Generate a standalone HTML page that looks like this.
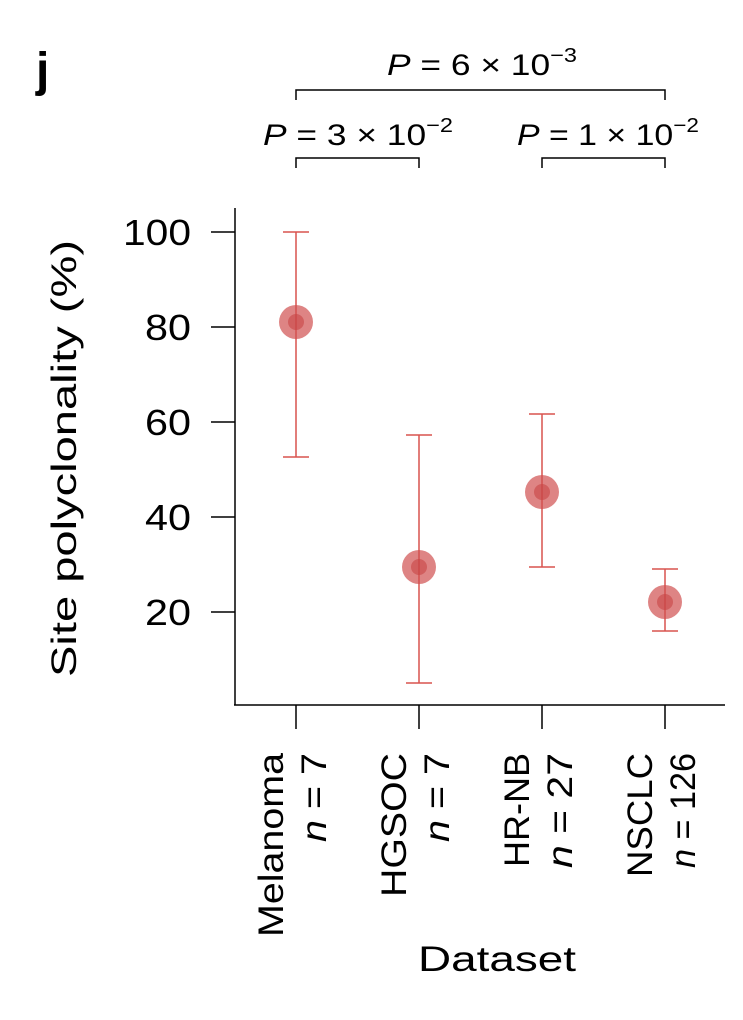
<!DOCTYPE html>
<html><head><meta charset="utf-8"><style>
html,body{margin:0;padding:0;background:#fff;}
svg{display:block;font-family:"Liberation Sans",sans-serif;}
</style></head><body>
<svg width="743" height="1020" viewBox="0 0 743 1020" xmlns="http://www.w3.org/2000/svg">
<text x="36" y="86" font-size="48" font-weight="bold">j</text>
<g stroke="#000" stroke-width="1.5" fill="none">
<polyline points="296,100 296,90 665,90 665,100"/>
<polyline points="296,168 296,158 419,158 419,168"/>
<polyline points="542,168 542,158 665,158 665,168"/>
<line x1="235" y1="208" x2="235" y2="705"/>
<line x1="234" y1="705" x2="725" y2="705"/>
<line x1="211" y1="232" x2="235" y2="232"/>
<line x1="211" y1="327" x2="235" y2="327"/>
<line x1="211" y1="422" x2="235" y2="422"/>
<line x1="211" y1="517" x2="235" y2="517"/>
<line x1="211" y1="612" x2="235" y2="612"/>
<line x1="296" y1="705" x2="296" y2="729"/>
<line x1="419" y1="705" x2="419" y2="729"/>
<line x1="542" y1="705" x2="542" y2="729"/>
<line x1="665" y1="705" x2="665" y2="729"/>
</g>
<g font-size="30">
<text x="387" y="75" textLength="190" lengthAdjust="spacingAndGlyphs"><tspan font-style="italic">P</tspan> = 6 × 10<tspan font-size="20" dy="-13">−3</tspan></text>
<text x="263" y="145" textLength="190" lengthAdjust="spacingAndGlyphs"><tspan font-style="italic">P</tspan> = 3 × 10<tspan font-size="20" dy="-13">−2</tspan></text>
<text x="517" y="145" textLength="182" lengthAdjust="spacingAndGlyphs"><tspan font-style="italic">P</tspan> = 1 × 10<tspan font-size="20" dy="-13">−2</tspan></text>
</g>
<g font-size="36">
<text x="123" y="245" textLength="68" lengthAdjust="spacingAndGlyphs">100</text>
<text x="145" y="340" textLength="46" lengthAdjust="spacingAndGlyphs">80</text>
<text x="145" y="435" textLength="46" lengthAdjust="spacingAndGlyphs">60</text>
<text x="145" y="530" textLength="46" lengthAdjust="spacingAndGlyphs">40</text>
<text x="145" y="625" textLength="46" lengthAdjust="spacingAndGlyphs">20</text>
</g>
<text transform="translate(76,677) rotate(-90)" font-size="35" textLength="437" lengthAdjust="spacingAndGlyphs">Site polyclonality (%)</text>
<text x="418" y="971" font-size="35" textLength="158" lengthAdjust="spacingAndGlyphs">Dataset</text>
<g font-size="35" lengthAdjust="spacingAndGlyphs">
<text transform="translate(283,937) rotate(-90)" textLength="184" lengthAdjust="spacingAndGlyphs">Melanoma</text>
<text transform="translate(326,842) rotate(-90)" textLength="89" lengthAdjust="spacingAndGlyphs"><tspan font-style="italic">n</tspan> = 7</text>
<text transform="translate(406,897) rotate(-90)" textLength="144" lengthAdjust="spacingAndGlyphs">HGSOC</text>
<text transform="translate(449,842) rotate(-90)" textLength="89" lengthAdjust="spacingAndGlyphs"><tspan font-style="italic">n</tspan> = 7</text>
<text transform="translate(529,867) rotate(-90)" textLength="114" lengthAdjust="spacingAndGlyphs">HR-NB</text>
<text transform="translate(572,868) rotate(-90)" textLength="115" lengthAdjust="spacingAndGlyphs"><tspan font-style="italic">n</tspan> = 27</text>
<text transform="translate(652,877) rotate(-90)" textLength="124" lengthAdjust="spacingAndGlyphs">NSCLC</text>
<text transform="translate(695,868) rotate(-90)" textLength="115" lengthAdjust="spacingAndGlyphs"><tspan font-style="italic">n</tspan> = 126</text>
</g>
<g stroke="#d9534f" stroke-width="1.5">
<line x1="296" y1="232" x2="296" y2="457"/><line x1="283" y1="232" x2="309" y2="232"/><line x1="283" y1="457" x2="309" y2="457"/>
<line x1="419" y1="435" x2="419" y2="683"/><line x1="406" y1="435" x2="432" y2="435"/><line x1="406" y1="683" x2="432" y2="683"/>
<line x1="542" y1="414" x2="542" y2="567"/><line x1="529" y1="414" x2="555" y2="414"/><line x1="529" y1="567" x2="555" y2="567"/>
<line x1="665" y1="569" x2="665" y2="631"/><line x1="652" y1="569" x2="678" y2="569"/><line x1="652" y1="631" x2="678" y2="631"/>
</g>
<g fill="#d05050" fill-opacity="0.7">
<circle cx="296" cy="322" r="17"/><circle cx="419" cy="567" r="17"/><circle cx="542" cy="492" r="17"/><circle cx="665" cy="602" r="17"/>
</g>
<g fill="#c84444" fill-opacity="0.6">
<circle cx="296" cy="322" r="8"/><circle cx="419" cy="567" r="8"/><circle cx="542" cy="492" r="8"/><circle cx="665" cy="602" r="8"/>
</g>
</svg>
</body></html>
